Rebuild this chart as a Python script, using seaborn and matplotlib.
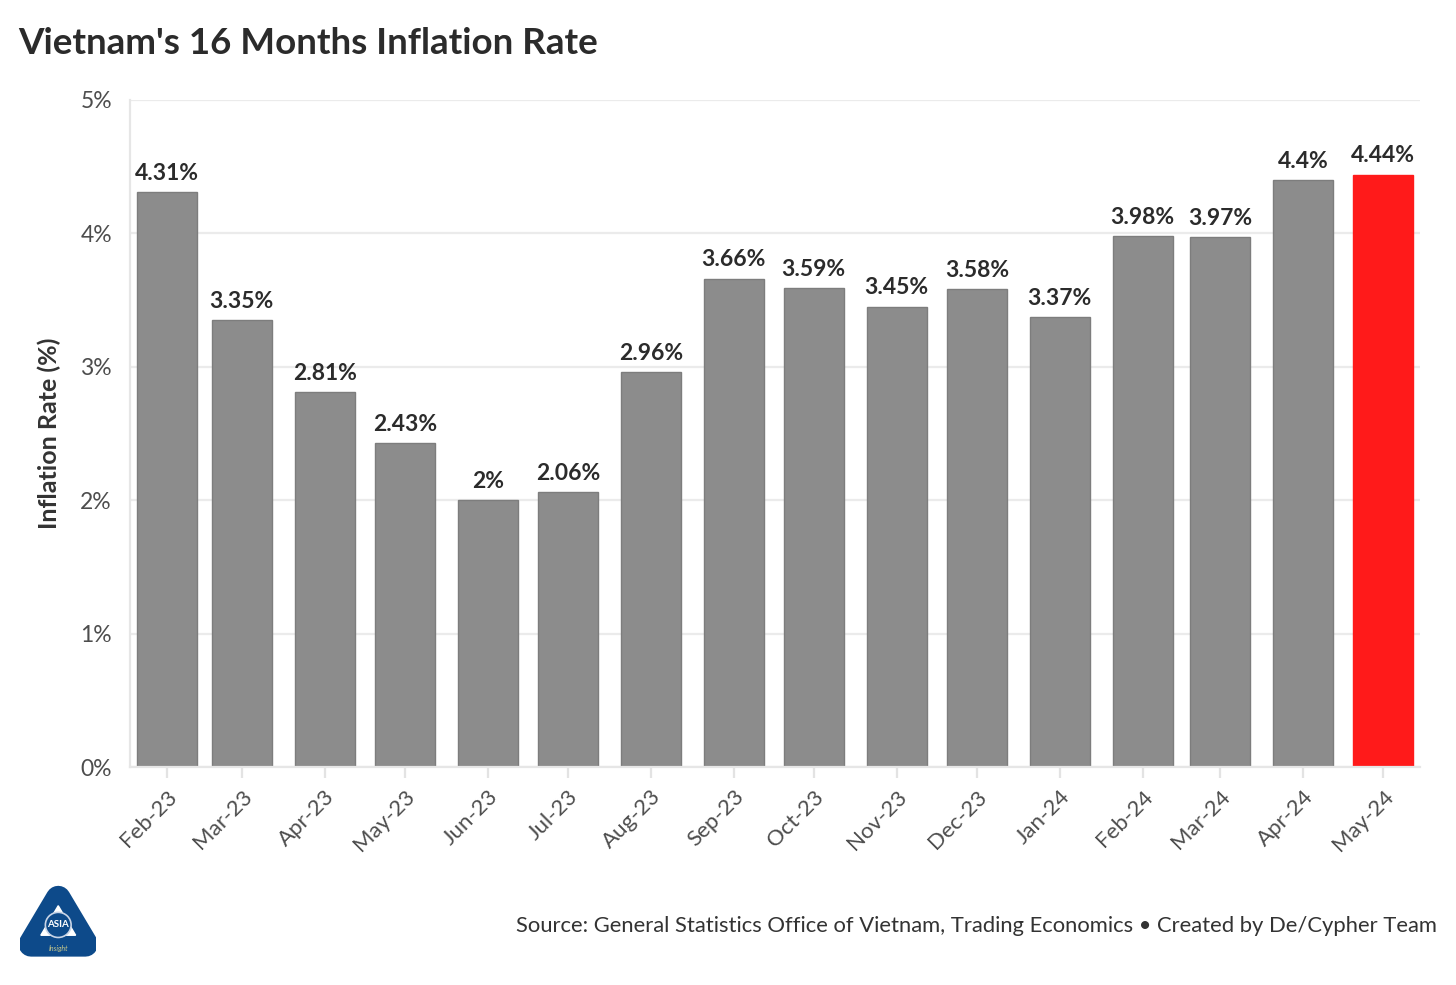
import datetime as dt

import matplotlib
matplotlib.use("Agg")
import matplotlib.pyplot as plt
import matplotlib.dates as mdates
from matplotlib.patches import Polygon, Circle
from matplotlib.ticker import FuncFormatter
import seaborn as sns
import pandas as pd

# data
months = ["Feb-23", "Mar-23", "Apr-23", "May-23", "Jun-23", "Jul-23", "Aug-23", "Sep-23",
          "Oct-23", "Nov-23", "Dec-23", "Jan-24", "Feb-24", "Mar-24", "Apr-24", "May-24"]
month_starts = [dt.date(2023, 2, 1), dt.date(2023, 3, 1), dt.date(2023, 4, 1), dt.date(2023, 5, 1),
                dt.date(2023, 6, 1), dt.date(2023, 7, 1), dt.date(2023, 8, 1), dt.date(2023, 9, 1),
                dt.date(2023, 10, 1), dt.date(2023, 11, 1), dt.date(2023, 12, 1), dt.date(2024, 1, 1),
                dt.date(2024, 2, 1), dt.date(2024, 3, 1), dt.date(2024, 4, 1), dt.date(2024, 5, 1)]
inflation = [4.31, 3.35, 2.81, 2.43, 2.00, 2.06, 2.96, 3.66,
             3.59, 3.45, 3.58, 3.37, 3.98, 3.97, 4.40, 4.44]
bar_colors = ["#8c8c8c"] * 15 + ["#ff1a1a"]

sns.set_theme(style="white")
plt.rcParams["font.family"] = ["Lato", "DejaVu Sans"]

df = pd.DataFrame({
    "month": months,
    "x": mdates.date2num(month_starts),
    "rate": inflation,
})

fig = plt.figure(figsize=(14.56, 9.85), dpi=100)
ax = fig.add_axes([0.0893, 0.2213, 0.886, 0.6772])

# bars on a real date scale (Feb is shorter, so spacing is uneven)
sns.barplot(data=df, x="x", y="rate", hue="month", palette=bar_colors, legend=False,
            native_scale=True, width=0.8, ax=ax, saturation=1,
            edgecolor="#7d7d7d", linewidth=1)
for p, c in zip(ax.patches, bar_colors):
    if c != "#8c8c8c":
        p.set_edgecolor(c)

for xv, v in zip(df["x"], df["rate"]):
    ax.annotate(f"{v:g}%", (xv, v), xytext=(0, 6), textcoords="offset points",
                ha="center", va="bottom", fontsize=16.5, fontweight="bold", color="#2b2b2b")

ax.set_xlim(df["x"].iloc[0] - 13.8, df["x"].iloc[-1] + 13.8)
ax.set_ylim(0, 5)
ax.set_yticks([0, 1, 2, 3, 4, 5])
ax.yaxis.set_major_formatter(FuncFormatter(lambda v, _: f"{v:.0f}%"))
ax.set_xticks(df["x"])
ax.set_xticklabels(months, rotation=45, ha="right", rotation_mode="anchor")

ax.grid(axis="y", color="#ebebeb", linewidth=1.6)
ax.set_axisbelow(True)
for s in ["top", "right"]:
    ax.spines[s].set_visible(False)
for s in ["left", "bottom"]:
    ax.spines[s].set_color("#e6e6e6")
    ax.spines[s].set_linewidth(1.6)

ax.tick_params(axis="y", length=9, width=1.6, color="#ebebeb", labelsize=16.5,
               labelcolor="#4d4d4d", pad=4)
ax.tick_params(axis="x", bottom=True, length=8, width=1.6, color="#e3e3e3", labelsize=16,
               labelcolor="#4d4d4d", pad=6)

ax.set_xlabel("")
ax.set_ylabel("Inflation Rate (%)", fontsize=18, fontweight="bold", color="#333333", labelpad=14)

fig.text(0.0124, 0.956, "Vietnam's 16 Months Inflation Rate", fontsize=26.5, fontweight="bold",
         color="#2b2b2b", va="center", ha="left")
fig.text(0.987, 0.06, "Source: General Statistics Office of Vietnam, Trading Economics \u2022 Created by De/Cypher Team",
         fontsize=15.8, color="#333333", ha="right", va="center")

# simple version of the logo
lax = fig.add_axes([0.014, 0.028, 0.052, 0.075])
lax.set_xlim(0, 1)
lax.set_ylim(0, 1)
lax.axis("off")
lax.add_patch(Polygon([[0.14, 0.18], [0.86, 0.18], [0.5, 0.8]], closed=True, facecolor="#0d4a8a",
                      edgecolor="#0d4a8a", linewidth=18, joinstyle="round"))
lax.add_patch(Polygon([[0.27, 0.3], [0.73, 0.3], [0.5, 0.7]], closed=True, facecolor="white",
                      edgecolor="white"))
lax.add_patch(Circle((0.5, 0.44), 0.17, facecolor="#0d4a8a", edgecolor="#c8d4e6", linewidth=1.2))
lax.text(0.5, 0.45, "ASIA", color="white", fontsize=7, fontweight="bold", ha="center", va="center")
lax.text(0.5, 0.12, "Insight", color="#c9c98a", fontsize=5, style="italic", ha="center", va="center")

fig.savefig("out.png", dpi=100)
